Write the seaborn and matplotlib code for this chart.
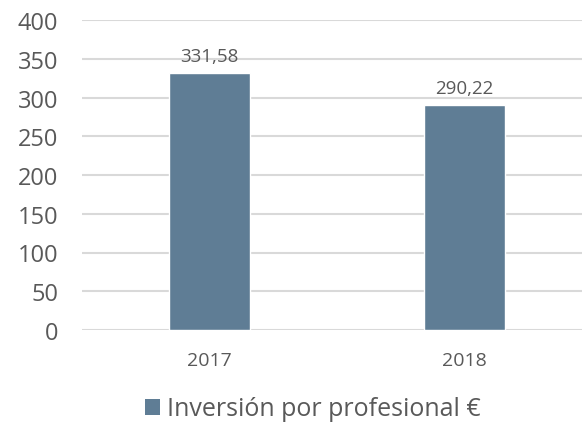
import matplotlib
matplotlib.use("Agg")
import matplotlib.pyplot as plt
import seaborn as sns
import pandas as pd
from matplotlib.patches import Patch

years = ["2017", "2018"]
values = [331.58, 290.22]
value_labels = ["331,58", "290,22"]
series_name = "Inversión por profesional €"

bar_color = "#5F7D95"
text_color = "#595959"

sns.set_theme(style="white")
plt.rcParams["font.family"] = ["Open Sans", "DejaVu Sans"]

df = pd.DataFrame({"year": years, "value": values})

fig = plt.figure(figsize=(5.82, 4.27), dpi=100)
ax = fig.add_axes([82 / 582, 96 / 427, 510 / 582, 310 / 427])

sns.barplot(data=df, x="year", y="value", color=bar_color, width=0.314,
            saturation=1, ax=ax, zorder=3)

ax.set_ylim(0, 400)
ax.set_yticks(range(0, 401, 50))
ax.yaxis.grid(True, color="#D9D9D9", linewidth=1.5, zorder=0)
ax.set_axisbelow(True)
for s in ax.spines.values():
    s.set_visible(False)
ax.set_xlabel("")
ax.set_ylabel("")
ax.tick_params(axis="y", labelsize=17, labelcolor=text_color, length=0, pad=17)
ax.tick_params(axis="x", labelsize=14, labelcolor=text_color, length=0, pad=15)

for i, (v, t) in enumerate(zip(values, value_labels)):
    ax.annotate(t, (i, v), xytext=(0, 6), textcoords="offset points",
                ha="center", va="bottom", fontsize=13.5, color=text_color)

handle = Patch(facecolor=bar_color, edgecolor="none")
fig.legend([handle], [series_name], loc="center", bbox_to_anchor=(313 / 582, 1 - 410 / 427),
           frameon=False, handlelength=0.6, handleheight=0.6,
           handletextpad=0.3, labelcolor=text_color, prop={"size": 18})

fig.savefig("out.png", dpi=100)
